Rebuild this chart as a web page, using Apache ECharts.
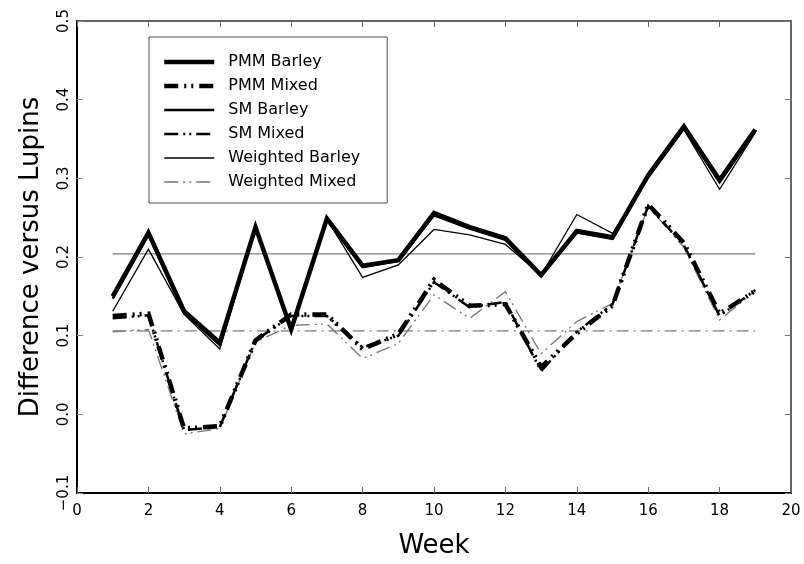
<!DOCTYPE html>
<html>
<head>
<meta charset="utf-8">
<script src="https://cdn.jsdelivr.net/npm/echarts@6/dist/echarts.min.js"></script>
<style>html,body{margin:0;padding:0;background:#fff}#chart{width:804px;height:564px}</style>
</head>
<body>
<div id="chart"></div>
<script>
var weeks = [1,2,3,4,5,6,7,8,9,10,11,12,13,14,15,16,17,18,19];
var pmmBarley = [0.150,0.231,0.131,0.091,0.238,0.108,0.249,0.189,0.196,0.256,0.238,0.224,0.177,0.233,0.225,0.304,0.366,0.298,0.362];
var smBarley  = [0.147,0.228,0.129,0.088,0.236,0.110,0.247,0.187,0.195,0.253,0.236,0.222,0.176,0.231,0.223,0.302,0.364,0.295,0.360];
var wBarley   = [0.131,0.210,0.127,0.083,0.236,0.112,0.248,0.174,0.190,0.235,0.228,0.216,0.177,0.254,0.230,0.300,0.362,0.286,0.358];
var pmmMixed  = [0.125,0.128,-0.018,-0.015,0.094,0.127,0.127,0.083,0.102,0.171,0.138,0.140,0.060,0.103,0.138,0.267,0.218,0.128,0.157];
var smMixed   = [0.122,0.126,-0.020,-0.016,0.094,0.125,0.125,0.085,0.100,0.168,0.136,0.143,0.055,0.105,0.140,0.265,0.215,0.125,0.158];
var wMixed    = [0.105,0.108,-0.025,-0.018,0.092,0.113,0.115,0.071,0.090,0.152,0.122,0.156,0.077,0.118,0.141,0.264,0.212,0.120,0.157];
var meanWeeks = [1,19];
var meanBarley = [0.204,0.204];
var meanMixed = [0.106,0.106];
var seriesNames = ['PMM Barley','PMM Mixed','SM Barley','SM Mixed','Weighted Barley','Weighted Mixed'];

function pairs(xs, ys){ return xs.map(function(x,i){ return [x, ys[i]]; }); }

var font = 'DejaVu Sans';
var styles = {
  'PMM Barley':      {color:'#000', width:4.5, type:'solid', z:4},
  'PMM Mixed':       {color:'#000', width:4.5, type:[14,6,2,5,2,6], z:4},
  'SM Barley':       {color:'#000', width:2.5, type:'solid', z:3},
  'SM Mixed':        {color:'#000', width:2.5, type:[14,5,2,4,2,5], z:3},
  'Weighted Barley': {color:'#000', width:1.3, type:'solid', z:2},
  'Weighted Mixed':  {color:'#777', width:1.3, type:[14,5,2,4,2,5], z:2}
};
var chart = echarts.init(document.getElementById('chart'), null, {renderer:'canvas'});
function lineSeries(name, data, st){
  return {name:name, type:'line', data:data, symbol:'none', silent:true, z:st.z,
    lineStyle:{color:st.color, width:st.width, type:st.type, cap:'butt', join:'miter'},
    itemStyle:{color:st.color}, animation:false};
}
var legendData = seriesNames.map(function(n){
  var st = styles[n];
  return {name:n, lineStyle:{color:st.color, width:st.width, type:st.type}, itemStyle:{opacity:0}};
});
var option = {
  animation:false,
  backgroundColor:'#fff',
  grid:{left:77, right:13, top:21, bottom:65, containLabel:false},
  legend:{
    data:legendData, orient:'vertical', left:149, top:37,
    itemWidth:50, itemHeight:16, itemGap:8,
    padding:[17,27,13,13],
    borderColor:'#555', borderWidth:1, backgroundColor:'#fff',
    itemStyle:{opacity:0},
    textStyle:{fontFamily:font, fontSize:16, color:'#000', padding:[0,0,0,9]},
    selectedMode:false
  },
  xAxis:[
    {type:'value', min:0, max:20, interval:2, position:'bottom',
     axisLine:{show:true, onZero:false, lineStyle:{color:'#000', width:2}},
     axisTick:{show:true, inside:true, length:6, lineStyle:{color:'#666', width:1}},
     axisLabel:{fontFamily:font, fontSize:15, color:'#000', margin:11},
     splitLine:{show:false},
     name:'Week', nameLocation:'middle', nameGap:40,
     nameTextStyle:{fontFamily:font, fontSize:26, color:'#000'}},
    {type:'value', min:0, max:20, interval:2, position:'top',
     axisLine:{show:true, onZero:false, lineStyle:{color:'#333', width:1.5}},
     axisTick:{show:true, inside:true, length:6, lineStyle:{color:'#666', width:1}},
     axisLabel:{show:false}, splitLine:{show:false}}
  ],
  yAxis:[
    {type:'value', min:-0.1, max:0.5, interval:0.1, position:'left',
     axisLine:{show:true, onZero:false, lineStyle:{color:'#000', width:2}},
     axisTick:{show:true, inside:true, length:6, lineStyle:{color:'#888', width:1}},
     axisLabel:{fontFamily:font, fontSize:15, color:'#000', rotate:90, margin:5,
       formatter:function(v){ return v.toFixed(1).replace('-', '\u2212'); }},
     splitLine:{show:false},
     name:'Difference versus Lupins', nameLocation:'middle', nameGap:33, nameRotate:90,
     nameTextStyle:{fontFamily:font, fontSize:26, color:'#000'}},
    {type:'value', min:-0.1, max:0.5, interval:0.1, position:'right',
     axisLine:{show:true, onZero:false, lineStyle:{color:'#333', width:1.5}},
     axisTick:{show:true, inside:true, length:6, lineStyle:{color:'#777', width:1}},
     axisLabel:{show:false}, splitLine:{show:false}}
  ],
  series:[
    lineSeries('Barley mean', pairs(meanWeeks, meanBarley), {color:'#808080', width:1.2, type:'solid', z:1}),
    lineSeries('Mixed mean', pairs(meanWeeks, meanMixed), {color:'#555', width:1, type:[12,5,2,5], z:1}),
    lineSeries('Weighted Barley', pairs(weeks, wBarley), styles['Weighted Barley']),
    lineSeries('Weighted Mixed', pairs(weeks, wMixed), styles['Weighted Mixed']),
    lineSeries('SM Barley', pairs(weeks, smBarley), styles['SM Barley']),
    lineSeries('SM Mixed', pairs(weeks, smMixed), styles['SM Mixed']),
    lineSeries('PMM Barley', pairs(weeks, pmmBarley), styles['PMM Barley']),
    lineSeries('PMM Mixed', pairs(weeks, pmmMixed), styles['PMM Mixed'])
  ]
};
chart.setOption(option);
</script>
</body>
</html>
